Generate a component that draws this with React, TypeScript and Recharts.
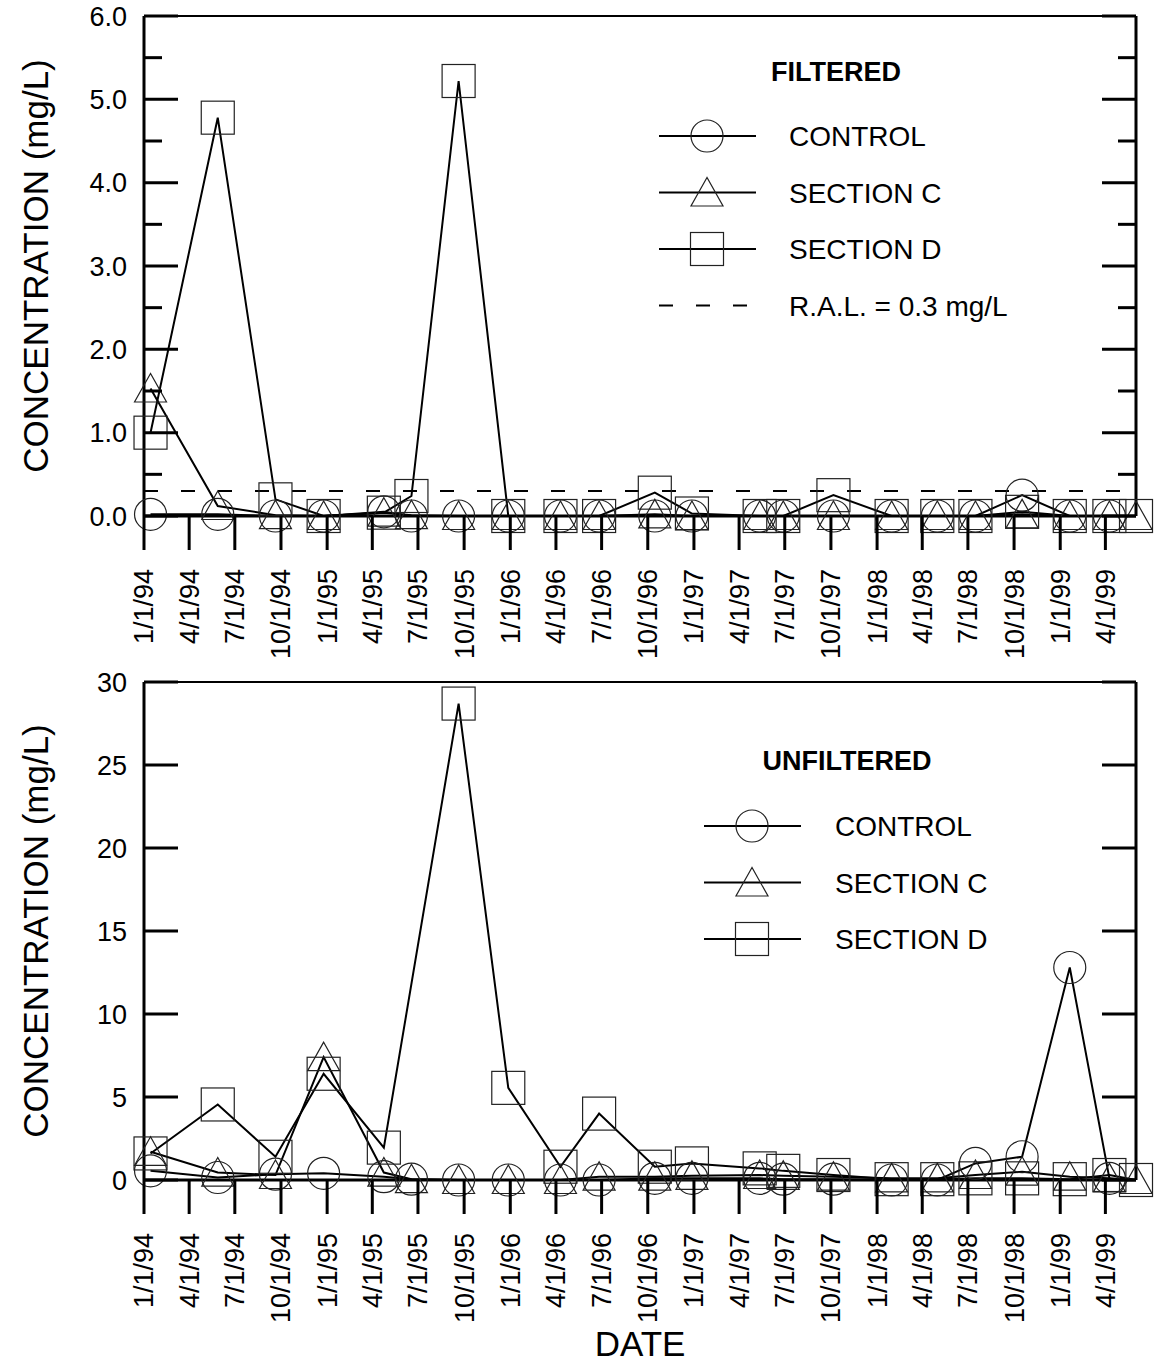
import React from 'react';
import { LineChart, Line, XAxis, YAxis, ReferenceLine, Legend } from 'recharts';

const FONT = '"Liberation Sans", Arial, Helvetica, sans-serif';

const CHART_W = 1158;
const LEFT_AXIS_W = 144;
const RIGHT_MARGIN = 21;
const PLOT_W = CHART_W - LEFT_AXIS_W - RIGHT_MARGIN - 1;

// sampling dates (m/d/yy)
const SAMPLE_DATES = [
  '1/14/94', '5/28/94', '9/20/94', '12/25/94', '4/24/95', '6/18/95', '9/20/95',
  '12/28/95', '4/10/96', '6/26/96', '10/15/96', '12/28/96', '5/12/97', '6/28/97',
  '10/6/97', '1/30/98', '5/1/98', '7/16/98', '10/17/98', '1/20/99', '4/9/99', '6/1/99',
];

const TICK_LABELS = [
  '1/1/94', '4/1/94', '7/1/94', '10/1/94', '1/1/95', '4/1/95', '7/1/95', '10/1/95',
  '1/1/96', '4/1/96', '7/1/96', '10/1/96', '1/1/97', '4/1/97', '7/1/97', '10/1/97',
  '1/1/98', '4/1/98', '7/1/98', '10/1/98', '1/1/99', '4/1/99',
];
const X_START = '1/1/94';
const X_END = '6/1/99';

const SERIES_NAMES = ['CONTROL', 'SECTION C', 'SECTION D'];
const RAL = 0.3;

// filtered, mg/L
const FILTERED_CONTROL = [0.02, 0.02, 0, 0, 0.05, 0, 0, 0, 0, 0, 0, 0, 0, 0, 0, 0, 0, 0, 0.25, 0, 0, null];
const FILTERED_SECTION_C = [1.53, 0.12, 0.01, 0, 0.04, 0.01, 0, 0, 0, 0, 0.02, 0, 0, 0, 0, 0, 0, 0, 0.02, 0, 0, 0];
const FILTERED_SECTION_D = [1.0, 4.78, 0.2, 0, 0.04, 0.24, 5.22, 0, 0, 0, 0.28, 0.03, 0, 0, 0.25, 0, 0, 0, 0.05, 0, 0, 0];

// unfiltered, mg/L
const UNFILTERED_CONTROL = [0.55, 0.15, 0.35, 0.4, 0.2, 0.05, 0, 0, 0, 0, 0.1, 0.1, 0.1, 0.05, 0.05, 0, 0, 1.0, 1.4, 12.8, 0.1, null];
const UNFILTERED_SECTION_C = [1.7, 0.45, 0.3, 7.4, 0.45, 0.05, 0, 0, 0, 0.2, 0.2, 0.25, 0.3, 0.25, 0.2, 0.1, 0.1, 0.3, 0.5, 0.2, 0.1, 0];
const UNFILTERED_SECTION_D = [1.6, 4.55, 1.4, 6.4, 1.95, null, 28.7, 5.55, 0.8, 4.0, 0.8, 1.0, 0.7, 0.55, 0.3, 0.05, 0.05, 0.1, 0.1, 0.05, 0.3, 0];

const FILTERED_TICKS = [0, 0.5, 1, 1.5, 2, 2.5, 3, 3.5, 4, 4.5, 5, 5.5, 6];
const UNFILTERED_TICKS = [0, 5, 10, 15, 20, 25, 30];

function toDay(label: string) {
  const [m, d, y] = label.split('/').map(Number);
  return Date.UTC(1900 + y, m - 1, d) / 86400000;
}

function buildRows(control: (number | null)[], secC: (number | null)[], secD: (number | null)[]) {
  return SAMPLE_DATES.map((d, i) => ({
    t: toDay(d),
    control: control[i],
    sectionC: secC[i],
    sectionD: secD[i],
  }));
}

const SHAPES = ['circle', 'triangle', 'square'];
const KEYS = ['control', 'sectionC', 'sectionD'];

function Marker({ shape, cx, cy }: any) {
  if (cx == null || cy == null || Number.isNaN(cy)) return <g />;
  const s = { fill: 'none', stroke: '#222', strokeWidth: 1.2 };
  if (shape === 'circle') return <circle cx={cx} cy={cy} r={16} {...s} />;
  if (shape === 'triangle')
    return <polygon points={`${cx},${cy - 15} ${cx - 16},${cy + 13.5} ${cx + 16},${cy + 13.5}`} {...s} />;
  return <rect x={cx - 16.5} y={cy - 16.5} width={33} height={33} {...s} />;
}

// left axis tick; also mirrors the tick mark on the right frame (ticks point inward)
function ConcTick({ x, y, payload, majorStep, decimals }: any) {
  const v = payload.value;
  const major = Math.abs(v / majorStep - Math.round(v / majorStep)) < 1e-6;
  const len = major ? 34 : 18;
  const xr = x + PLOT_W;
  return (
    <g>
      <line x1={x} x2={x + len} y1={y} y2={y} stroke="#000" strokeWidth={3} />
      <line x1={xr} x2={xr - len} y1={y} y2={y} stroke="#000" strokeWidth={3} />
      {major && (
        <text x={x - 17} y={y} dy="0.36em" textAnchor="end" fontSize={27} fontFamily={FONT} fill="#000">
          {v.toFixed(decimals)}
        </text>
      )}
    </g>
  );
}

function DateTick({ x, y, index }: any) {
  const ty = y + 53;
  return (
    <g>
      <line x1={x} x2={x} y1={y} y2={y + 34} stroke="#000" strokeWidth={3} />
      <text x={x} y={ty} dy="0.35em" transform={`rotate(-90 ${x} ${ty})`} textAnchor="end" fontSize={27} fontFamily={FONT} fill="#000">
        {TICK_LABELS[index]}
      </text>
    </g>
  );
}

function YTitle({ viewBox }: any) {
  const cx = (viewBox?.x ?? 0) + 48;
  const cy = (viewBox?.y ?? 0) + (viewBox?.height ?? 0) / 2;
  return (
    <text x={cx} y={cy} transform={`rotate(-90 ${cx} ${cy})`} textAnchor="middle" fontSize={35} fontFamily={FONT} fill="#000">
      CONCENTRATION (mg/L)
    </text>
  );
}

function DateTitle({ viewBox }: any) {
  const cx = viewBox.x + viewBox.width / 2;
  return (
    <text x={cx} y={viewBox.y + 176} textAnchor="middle" fontSize={35} fontFamily={FONT} fill="#000">
      DATE
    </text>
  );
}

function SeriesLegend({ title, titleX, titleY, lineX, rowY, textX, showRal }: any) {
  const mid = lineX + 48;
  return (
    <svg width={440} height={300} style={{ overflow: 'visible' }}>
      <text x={titleX} y={titleY} textAnchor="middle" fontSize={27} fontWeight="bold" fontFamily={FONT} fill="#000">
        {title}
      </text>
      {SERIES_NAMES.map((name, i) => {
        const y = rowY + i * 56.5;
        return (
          <g key={name}>
            <line x1={lineX} x2={lineX + 97} y1={y} y2={y} stroke="#000" strokeWidth={2} />
            <Marker shape={SHAPES[i]} cx={mid} cy={y} />
            <text x={textX} y={y + 10} fontSize={28} fontFamily={FONT} fill="#000">{name}</text>
          </g>
        );
      })}
      {showRal && (
        <g>
          <line x1={lineX} x2={lineX + 90} y1={rowY + 169.5} y2={rowY + 169.5} stroke="#000" strokeWidth={2} strokeDasharray="14 23" />
          <text x={textX} y={rowY + 179.5} fontSize={28} fontFamily={FONT} fill="#000">R.A.L. = {RAL} mg/L</text>
        </g>
      )}
    </svg>
  );
}

function ConcentrationChart({ rows, height, marginTop, xAxisHeight, yMax, ticks, majorStep, decimals, legend, showRal, showDate }: any) {
  return (
    <LineChart width={CHART_W} height={height} data={rows} margin={{ top: marginTop, right: RIGHT_MARGIN, bottom: 0, left: 0 }}>
      <XAxis
        dataKey="t"
        type="number"
        domain={[toDay(X_START), toDay(X_END)]}
        ticks={TICK_LABELS.map(toDay)}
        interval={0}
        height={xAxisHeight}
        tickSize={0}
        tickMargin={0}
        tickLine={false}
        axisLine={{ stroke: '#000', strokeWidth: 3 }}
        tick={<DateTick />}
        label={showDate ? <DateTitle /> : undefined}
      />
      <YAxis
        type="number"
        domain={[0, yMax]}
        ticks={ticks}
        interval={0}
        width={LEFT_AXIS_W}
        tickSize={0}
        tickMargin={0}
        tickLine={false}
        axisLine={{ stroke: '#000', strokeWidth: 3 }}
        tick={<ConcTick majorStep={majorStep} decimals={decimals} />}
        label={<YTitle />}
      />
      <YAxis
        yAxisId="right"
        orientation="right"
        type="number"
        domain={[0, yMax]}
        width={1}
        tick={false}
        tickLine={false}
        axisLine={{ stroke: '#000', strokeWidth: 3 }}
      />
      <ReferenceLine y={yMax} stroke="#000" strokeWidth={2} />
      {showRal && <ReferenceLine y={RAL} stroke="#000" strokeWidth={2} strokeDasharray="14 23" />}
      {KEYS.map((k, i) => (
        <Line
          key={k}
          dataKey={k}
          name={SERIES_NAMES[i]}
          type="linear"
          stroke="#000"
          strokeWidth={2}
          connectNulls
          isAnimationActive={false}
          dot={(p: any) => <Marker key={`${k}-${p.index}`} shape={SHAPES[i]} cx={p.cx} cy={p.value == null ? null : p.cy} />}
          activeDot={false}
        />
      ))}
      <Legend
        layout="vertical"
        align="center"
        verticalAlign="middle"
        wrapperStyle={{ left: 640, top: 40, width: 440, height: 300 }}
        content={() => <SeriesLegend {...legend} showRal={showRal} />}
      />
    </LineChart>
  );
}

export default function App() {
  const filtered = buildRows(FILTERED_CONTROL, FILTERED_SECTION_C, FILTERED_SECTION_D);
  const unfiltered = buildRows(UNFILTERED_CONTROL, UNFILTERED_SECTION_C, UNFILTERED_SECTION_D);
  return (
    <div style={{ width: CHART_W, height: 1364, background: '#fff', fontFamily: FONT }}>
      <style>{'body{margin:0;background:#fff}'}</style>
      <ConcentrationChart
        rows={filtered}
        height={660}
        marginTop={16}
        xAxisHeight={144}
        yMax={6}
        ticks={FILTERED_TICKS}
        majorStep={1}
        decimals={1}
        showRal
        legend={{ title: 'FILTERED', titleX: 196, titleY: 41, lineX: 19, rowY: 96, textX: 149 }}
      />
      <ConcentrationChart
        rows={unfiltered}
        height={704}
        marginTop={22}
        xAxisHeight={184}
        yMax={30}
        ticks={UNFILTERED_TICKS}
        majorStep={5}
        decimals={0}
        showDate
        legend={{ title: 'UNFILTERED', titleX: 207, titleY: 70, lineX: 64, rowY: 126, textX: 195 }}
      />
    </div>
  );
}
